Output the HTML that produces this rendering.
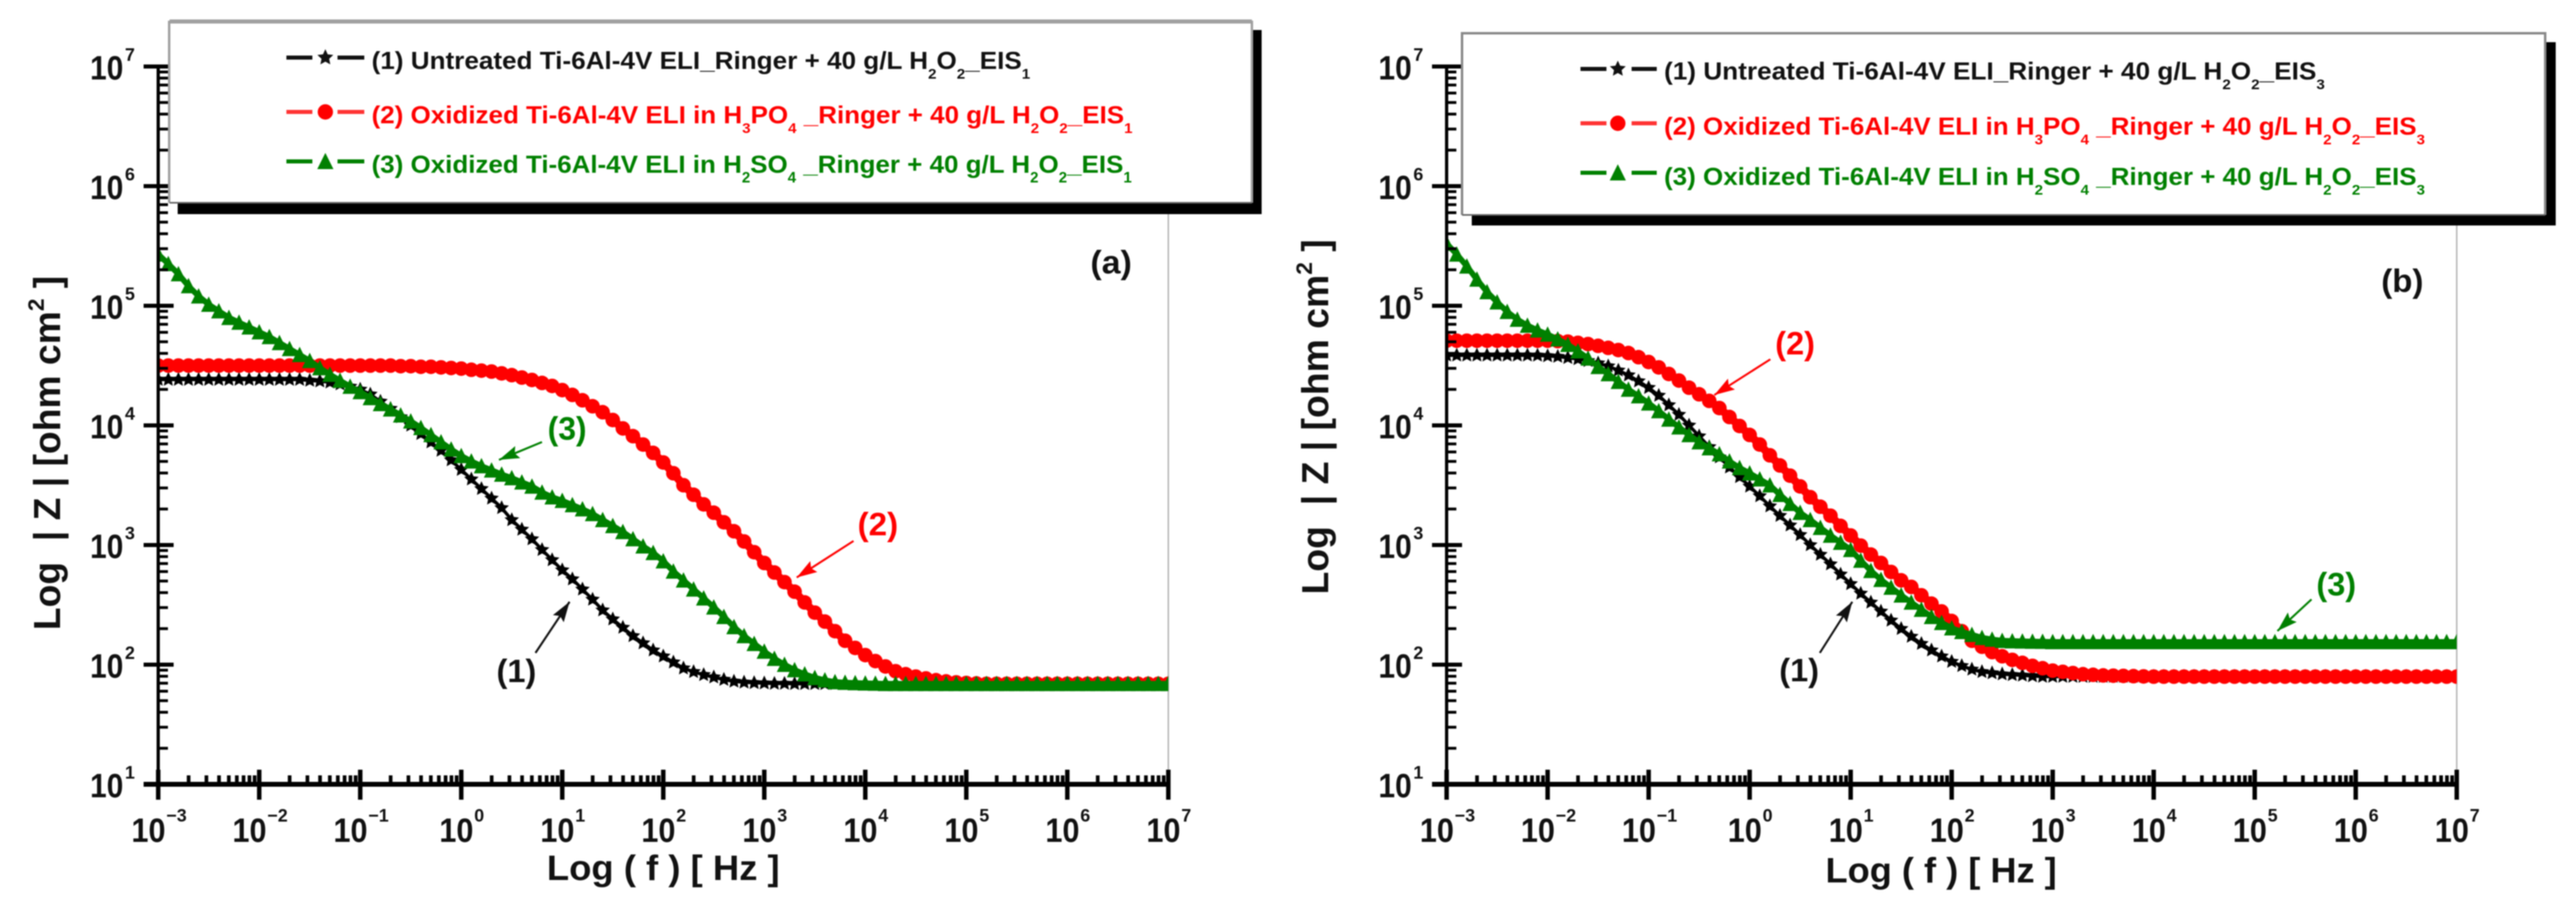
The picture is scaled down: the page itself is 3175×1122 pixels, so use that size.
<!DOCTYPE html>
<html lang="en">
<head>
<meta charset="utf-8">
<title>Bode plots of Ti-6Al-4V ELI in Ringer solution with H2O2</title>
<style>
html,body{margin:0;padding:0;background:#fff;width:3175px;height:1122px;overflow:hidden}
svg{display:block;filter:blur(0.7px)}
text{font-family:"Liberation Sans",sans-serif;font-weight:bold;white-space:pre}
.k{fill:#111}.r{fill:#f00}.g{fill:#008000}
.leg{font-size:31px}
.sub{font-size:18px}
</style>
</head>
<body>
<svg id="figure" xmlns="http://www.w3.org/2000/svg" width="3175" height="1122" viewBox="0 0 3175 1122">
<defs>
<marker id="ah-k" markerUnits="userSpaceOnUse" markerWidth="26" markerHeight="16" refX="25" refY="8" orient="auto"><path d="M0 0L25 8L0 16L4 8Z" fill="#111"/></marker>
<marker id="ah-r" markerUnits="userSpaceOnUse" markerWidth="26" markerHeight="16" refX="25" refY="8" orient="auto"><path d="M0 0L25 8L0 16L4 8Z" fill="#f00"/></marker>
<marker id="ah-g" markerUnits="userSpaceOnUse" markerWidth="26" markerHeight="16" refX="25" refY="8" orient="auto"><path d="M0 0L25 8L0 16L4 8Z" fill="#008000"/></marker>
<clipPath id="clip-a"><rect x="195" y="82" width="1245" height="885"/></clipPath>
<clipPath id="clip-b"><rect x="1783" y="82" width="1245" height="885"/></clipPath>
</defs>

<rect width="3175" height="1122" fill="#fff"/>

<g id="panel-a"></g>
<g id="panel-b"></g>

<!-- Panel A static text -->
<text transform="translate(74 777) rotate(-90)" font-size="46" textLength="437" lengthAdjust="spacingAndGlyphs" class="k">Log  | Z | [ohm cm<tspan font-size="28" dy="-20">2</tspan><tspan dy="20"> ]</tspan></text>
<text x="674" y="1085" font-size="44" textLength="287" lengthAdjust="spacingAndGlyphs" class="k">Log ( f ) [ Hz ]</text>
<text x="1344" y="337" font-size="40" textLength="51" lengthAdjust="spacingAndGlyphs" class="k">(a)</text>

<g>
<text x="612" y="841" font-size="40" textLength="49" lengthAdjust="spacingAndGlyphs" class="k">(1)</text>
<line x1="660" y1="805" x2="702" y2="742" stroke="#111" stroke-width="2.5" marker-end="url(#ah-k)"/>
<text x="1057" y="660" font-size="40" textLength="50" lengthAdjust="spacingAndGlyphs" class="r">(2)</text>
<line x1="1052" y1="667" x2="982" y2="712" stroke="#f00" stroke-width="2.5" marker-end="url(#ah-r)"/>
<text x="675" y="542" font-size="40" textLength="48" lengthAdjust="spacingAndGlyphs" class="g">(3)</text>
<line x1="668" y1="545" x2="615" y2="567" stroke="#008000" stroke-width="2.5" marker-end="url(#ah-g)"/>
</g>

<!-- Panel A legend -->
<g>
<rect x="219" y="37" width="1336" height="227" fill="#000"/>
<rect x="209" y="27" width="1334" height="223" fill="#fff"/>
<path d="M208.500 250V27H1543V250" fill="none" stroke="#a0a0a0" stroke-width="3"/>
<line x1="209" y1="26.500" x2="1543" y2="26.500" stroke="#a0a0a0" stroke-width="5"/>
<line x1="209" y1="250" x2="1543" y2="250" stroke="#666" stroke-width="2"/>
<path d="M353 71H385M416 71H449" stroke="#111" stroke-width="5"/>
<path d="M353 138H385M416 138H449" stroke="#f33" stroke-width="5"/>
<path d="M353 199H385M416 199H449" stroke="#008000" stroke-width="5"/>
<g id="legend-markers-a"></g>
<text data-fit="812" x="458" y="85" class="leg k">(1) Untreated Ti-6Al-4V ELI_Ringer + 40 g/L H<tspan class="sub" dy="12">2</tspan><tspan dy="-12">O</tspan><tspan class="sub" dy="12">2</tspan><tspan dy="-12">_EIS</tspan><tspan class="sub" dy="12">1</tspan></text>
<text data-fit="938" x="458" y="152" class="leg r">(2) Oxidized Ti-6Al-4V ELI in H<tspan class="sub" dy="12">3</tspan><tspan dy="-12">PO</tspan><tspan class="sub" dy="12">4</tspan><tspan dy="-12"> _Ringer + 40 g/L H</tspan><tspan class="sub" dy="12">2</tspan><tspan dy="-12">O</tspan><tspan class="sub" dy="12">2</tspan><tspan dy="-12">_EIS</tspan><tspan class="sub" dy="12">1</tspan></text>
<text data-fit="937" x="458" y="213" class="leg g">(3) Oxidized Ti-6Al-4V ELI in H<tspan class="sub" dy="12">2</tspan><tspan dy="-12">SO</tspan><tspan class="sub" dy="12">4</tspan><tspan dy="-12"> _Ringer + 40 g/L H</tspan><tspan class="sub" dy="12">2</tspan><tspan dy="-12">O</tspan><tspan class="sub" dy="12">2</tspan><tspan dy="-12">_EIS</tspan><tspan class="sub" dy="12">1</tspan></text>
</g>

<!-- Panel B static text -->
<text transform="translate(1637 733) rotate(-90)" font-size="46" textLength="438" lengthAdjust="spacingAndGlyphs" class="k">Log  | Z | [ohm cm<tspan font-size="28" dy="-20">2</tspan><tspan dy="20"> ]</tspan></text>
<text x="2250" y="1088" font-size="44" textLength="285" lengthAdjust="spacingAndGlyphs" class="k">Log ( f ) [ Hz ]</text>
<text x="2935" y="360" font-size="40" textLength="52" lengthAdjust="spacingAndGlyphs" class="k">(b)</text>

<g>
<text x="2193" y="840" font-size="40" textLength="49" lengthAdjust="spacingAndGlyphs" class="k">(1)</text>
<line x1="2243" y1="805" x2="2283" y2="742" stroke="#111" stroke-width="2.5" marker-end="url(#ah-k)"/>
<text x="2188" y="437" font-size="40" textLength="49" lengthAdjust="spacingAndGlyphs" class="r">(2)</text>
<line x1="2182" y1="443" x2="2113" y2="487" stroke="#f00" stroke-width="2.5" marker-end="url(#ah-r)"/>
<text x="2855" y="734" font-size="40" textLength="49" lengthAdjust="spacingAndGlyphs" class="g">(3)</text>
<line x1="2849" y1="739" x2="2807" y2="778" stroke="#008000" stroke-width="2.5" marker-end="url(#ah-g)"/>
</g>

<!-- Panel B legend -->
<g>
<rect x="1814" y="52" width="1336" height="226" fill="#000"/>
<rect x="1802" y="41" width="1335" height="224" fill="#fff"/>
<path d="M1802 265V41H3137V265" fill="none" stroke="#888" stroke-width="3"/>
<line x1="1802" y1="265" x2="3137" y2="265" stroke="#666" stroke-width="2"/>
<path d="M1948 85H1980M2011 85H2042" stroke="#111" stroke-width="5"/>
<path d="M1948 152H1980M2011 152H2042" stroke="#f33" stroke-width="5"/>
<path d="M1948 213H1980M2011 213H2042" stroke="#008000" stroke-width="5"/>
<g id="legend-markers-b"></g>
<text data-fit="815" x="2051" y="98" class="leg k">(1) Untreated Ti-6Al-4V ELI_Ringer + 40 g/L H<tspan class="sub" dy="12">2</tspan><tspan dy="-12">O</tspan><tspan class="sub" dy="12">2</tspan><tspan dy="-12">_EIS</tspan><tspan class="sub" dy="12">3</tspan></text>
<text data-fit="938" x="2051" y="166" class="leg r">(2) Oxidized Ti-6Al-4V ELI in H<tspan class="sub" dy="12">3</tspan><tspan dy="-12">PO</tspan><tspan class="sub" dy="12">4</tspan><tspan dy="-12"> _Ringer + 40 g/L H</tspan><tspan class="sub" dy="12">2</tspan><tspan dy="-12">O</tspan><tspan class="sub" dy="12">2</tspan><tspan dy="-12">_EIS</tspan><tspan class="sub" dy="12">3</tspan></text>
<text data-fit="938" x="2051" y="228" class="leg g">(3) Oxidized Ti-6Al-4V ELI in H<tspan class="sub" dy="12">2</tspan><tspan dy="-12">SO</tspan><tspan class="sub" dy="12">4</tspan><tspan dy="-12"> _Ringer + 40 g/L H</tspan><tspan class="sub" dy="12">2</tspan><tspan dy="-12">O</tspan><tspan class="sub" dy="12">2</tspan><tspan dy="-12">_EIS</tspan><tspan class="sub" dy="12">3</tspan></text>
</g>
</svg>

<script>
// Chart data: log10(frequency) and log10(|Z|).
const logFreq = [
-3.0,-2.9,-2.8,-2.7,-2.6,-2.5,-2.4,-2.3,-2.2,-2.1,
-2.0,-1.9,-1.8,-1.7,-1.6,-1.5,-1.4,-1.3,-1.2,-1.1,
-1.0,-0.9,-0.8,-0.7,-0.6,-0.5,-0.4,-0.3,-0.2,-0.1,
0.0,0.1,0.2,0.3,0.4,0.5,0.6,0.7,0.8,0.9,
1.0,1.1,1.2,1.3,1.4,1.5,1.6,1.7,1.8,1.9,
2.0,2.1,2.2,2.3,2.4,2.5,2.6,2.7,2.8,2.9,
3.0,3.1,3.2,3.3,3.4,3.5,3.6,3.7,3.8,3.9,
4.0,4.1,4.2,4.3,4.4,4.5,4.6,4.7,4.8,4.9,
5.0,5.1,5.2,5.3,5.4,5.5,5.6,5.7,5.8,5.9,
6.0,6.1,6.2,6.3,6.4,6.5,6.6,6.7,6.8,6.9,
7.0];

const panelAUntreated = [
4.383,4.383,4.383,4.383,4.383,4.383,4.383,4.383,4.383,4.383,
4.383,4.383,4.383,4.383,4.383,4.375,4.37,4.36,4.345,4.325,
4.30,4.26,4.20,4.14,4.07,4.00,3.93,3.86,3.79,3.71,
3.63,3.55,3.47,3.39,3.31,3.21,3.13,3.05,2.96,2.875,
2.79,2.715,2.63,2.545,2.455,2.38,2.31,2.24,2.18,2.12,
2.07,2.02,1.97,1.94,1.915,1.895,1.875,1.86,1.852,1.848,
1.845,1.842,1.842,1.84,1.84,1.84,1.84,1.84,1.84,1.84,
1.84,1.84,1.84,1.84,1.84,1.84,1.84,1.84,1.84,1.84,
1.84,1.84,1.84,1.84,1.84,1.84,1.84,1.84,1.84,1.84,
1.84,1.84,1.84,1.84,1.84,1.84,1.84,1.84,1.84,1.84,
1.84];

const panelAPhosphoric = [
4.50,4.50,4.50,4.50,4.50,4.50,4.50,4.50,4.50,4.50,
4.50,4.50,4.50,4.50,4.50,4.50,4.50,4.50,4.50,4.50,
4.50,4.50,4.50,4.50,4.495,4.495,4.49,4.49,4.485,4.48,
4.475,4.465,4.458,4.45,4.435,4.42,4.40,4.38,4.355,4.33,
4.295,4.255,4.21,4.16,4.11,4.045,3.975,3.91,3.84,3.77,
3.69,3.60,3.50,3.42,3.34,3.27,3.19,3.115,3.03,2.94,
2.85,2.77,2.69,2.61,2.52,2.435,2.36,2.28,2.20,2.14,
2.08,2.03,1.985,1.945,1.92,1.90,1.885,1.87,1.86,1.852,
1.847,1.843,1.84,1.84,1.84,1.84,1.84,1.84,1.84,1.84,
1.84,1.84,1.84,1.84,1.84,1.84,1.84,1.84,1.84,1.84,
1.84];

const panelASulfuric = [
5.43,5.35,5.265,5.165,5.08,5.01,4.955,4.90,4.86,4.82,
4.78,4.74,4.69,4.64,4.59,4.54,4.48,4.425,4.375,4.325,
4.28,4.23,4.18,4.135,4.085,4.035,3.98,3.92,3.86,3.80,
3.745,3.70,3.66,3.625,3.59,3.56,3.525,3.49,3.44,3.40,
3.37,3.335,3.30,3.26,3.21,3.16,3.11,3.05,2.99,2.935,
2.865,2.78,2.705,2.63,2.555,2.48,2.40,2.315,2.24,2.175,
2.11,2.05,2.00,1.955,1.92,1.89,1.87,1.855,1.85,1.847,
1.844,1.842,1.84,1.84,1.84,1.84,1.84,1.84,1.84,1.84,
1.84,1.84,1.84,1.84,1.84,1.84,1.84,1.84,1.84,1.84,
1.84,1.84,1.84,1.84,1.84,1.84,1.84,1.84,1.84,1.84,
1.84];

const panelBUntreated = [
4.586,4.586,4.586,4.586,4.586,4.586,4.586,4.586,4.586,4.585,
4.58,4.575,4.565,4.555,4.54,4.52,4.495,4.46,4.42,4.37,
4.315,4.25,4.17,4.09,4.00,3.91,3.82,3.735,3.65,3.57,
3.49,3.41,3.325,3.245,3.165,3.085,3.00,2.92,2.84,2.755,
2.675,2.595,2.52,2.445,2.37,2.30,2.235,2.175,2.12,2.07,
2.025,1.99,1.96,1.94,1.93,1.92,1.915,1.91,1.905,1.90,
1.90,1.90,1.90,1.90,1.90,1.90,1.90,1.90,1.90,1.90,
1.90,1.90,1.90,1.90,1.90,1.90,1.90,1.90,1.90,1.90,
1.90,1.90,1.90,1.90,1.90,1.90,1.90,1.90,1.90,1.90,
1.90,1.90,1.90,1.90,1.90,1.90,1.90,1.90,1.90,1.90,
1.90];

const panelBPhosphoric = [
4.708,4.708,4.708,4.708,4.708,4.708,4.708,4.708,4.708,4.708,
4.708,4.705,4.70,4.69,4.68,4.665,4.648,4.63,4.605,4.57,
4.53,4.485,4.43,4.375,4.315,4.26,4.205,4.145,4.07,3.995,
3.92,3.84,3.75,3.665,3.58,3.49,3.40,3.32,3.245,3.16,
3.08,2.995,2.92,2.85,2.775,2.705,2.65,2.58,2.51,2.445,
2.365,2.28,2.20,2.15,2.105,2.07,2.04,2.015,1.99,1.97,
1.95,1.94,1.93,1.92,1.915,1.91,1.908,1.906,1.904,1.902,
1.90,1.90,1.90,1.90,1.90,1.90,1.90,1.90,1.90,1.90,
1.90,1.90,1.90,1.90,1.90,1.90,1.90,1.90,1.90,1.90,
1.90,1.90,1.90,1.90,1.90,1.90,1.90,1.90,1.90,1.90,
1.90];

const panelBSulfuric = [
5.52,5.43,5.33,5.22,5.115,5.03,4.95,4.885,4.835,4.795,
4.76,4.72,4.675,4.62,4.56,4.49,4.43,4.365,4.30,4.245,
4.185,4.12,4.05,3.985,3.92,3.86,3.81,3.76,3.70,3.645,
3.60,3.55,3.50,3.42,3.345,3.27,3.21,3.145,3.08,3.02,
2.96,2.87,2.785,2.71,2.645,2.58,2.52,2.46,2.40,2.35,
2.305,2.275,2.25,2.225,2.21,2.20,2.197,2.195,2.193,2.192,
2.19,2.19,2.19,2.19,2.19,2.19,2.19,2.19,2.19,2.19,
2.19,2.19,2.19,2.19,2.19,2.19,2.19,2.19,2.19,2.19,
2.19,2.19,2.19,2.19,2.19,2.19,2.19,2.19,2.19,2.19,
2.19,2.19,2.19,2.19,2.19,2.19,2.19,2.19,2.19,2.19,
2.19];

const xTickExponents = [-3,-2,-1,0,1,2,3,4,5,6,7];
const yTickExponents = [1,2,3,4,5,6,7];
const minorMultiples = [2,3,4,5,6,7,8,9];

const SVGNS = 'http://www.w3.org/2000/svg';
const BLACK = '#000', RED = '#ff0000', GREEN = '#008000';

function make(tag, parent, attrs, text) {
  const node = document.createElementNS(SVGNS, tag);
  for (const key in attrs) node.setAttribute(key, attrs[key]);
  if (text !== undefined) node.textContent = text;
  parent.appendChild(node);
  return node;
}

function starPath(cx, cy, r) {
  let d = '';
  for (let i = 0; i < 10; i++) {
    const rad = i % 2 ? r * 0.48 : r;
    const a = -Math.PI / 2 + i * Math.PI / 5;
    d += (i ? 'L' : 'M') + (cx + rad * Math.cos(a)).toFixed(1) + ' ' + (cy + rad * Math.sin(a)).toFixed(1);
  }
  return d + 'Z';
}

function drawMarker(parent, shape, cx, cy, color, scale) {
  let m;
  if (shape === 'star') {
    m = make('path', parent, { d: starPath(cx, cy, 9 * scale), fill: color });
  } else if (shape === 'circle') {
    m = make('circle', parent, { cx: cx, cy: cy, r: 9 * scale, fill: color });
  } else {
    const d = 'M' + cx + ' ' + (cy - 10 * scale) + 'L' + (cx - 9.5 * scale) + ' ' + (cy + 9 * scale) + 'L' + (cx + 9.5 * scale) + ' ' + (cy + 9 * scale) + 'Z';
    m = make('path', parent, { d: d, fill: color });
  }
  
  
  return m;
}

function drawPanel(cfg) {
  const root = document.getElementById(cfg.id);
  const xScale = v => cfg.xLeft + (v - xTickExponents[0]) * (cfg.xRight - cfg.xLeft) / (xTickExponents[xTickExponents.length - 1] - xTickExponents[0]);
  const yScale = v => cfg.yBottom - (v - yTickExponents[0]) * (cfg.yBottom - cfg.yTop) / (yTickExponents[yTickExponents.length - 1] - yTickExponents[0]);

  const frame = make('line', root, { x1: cfg.xRight, y1: cfg.yTop, x2: cfg.xRight, y2: cfg.yBottom, stroke: '#bbb', 'stroke-width': 2 });
  
  

  const seriesGroup = make('g', root, { 'clip-path': 'url(#' + cfg.clip + ')' });
  
  

  cfg.series.forEach(s => {
    const g = make('g', seriesGroup, {});
    
    
    const pts = s.values.map((v, i) => xScale(logFreq[i]).toFixed(1) + ',' + yScale(v).toFixed(1)).join(' ');
    const line = make('polyline', g, { points: pts, fill: 'none', stroke: s.color, 'stroke-width': s.lineWidth });
    
    
    s.values.forEach((v, i) => drawMarker(g, s.shape, xScale(logFreq[i]), yScale(v), s.color, s.scale));
  });

  const axes = make('g', root, { stroke: '#000', fill: 'none' });
  
  

  const yAxis = make('line', axes, { x1: cfg.xLeft, y1: cfg.yTop, x2: cfg.xLeft, y2: cfg.yBottom + 19, 'stroke-width': 4 });
  
  
  const xAxis = make('line', axes, { x1: cfg.xLeft - 18, y1: cfg.yBottom, x2: cfg.xRight, y2: cfg.yBottom, 'stroke-width': 6 });
  
  

  xTickExponents.forEach((e, idx) => {
    const x = xScale(e);
    const t = make('line', axes, { x1: x, y1: cfg.yBottom - 18, x2: x, y2: cfg.yBottom + 19, 'stroke-width': 5.5 });
    
    
    if (idx < xTickExponents.length - 1) {
      minorMultiples.forEach(m => {
        const mx = xScale(e + Math.log10(m));
        const mt = make('line', axes, { x1: mx, y1: cfg.yBottom - 11, x2: mx, y2: cfg.yBottom, 'stroke-width': 4.5 });
        
        
      });
    }
    const off = e < 0 ? -33 : -27;
    const base = make('text', root, { x: x + off, y: 1038, 'font-size': 42, textLength: 42, lengthAdjust: 'spacingAndGlyphs', fill: '#111' }, '10');
    
    
    const exp = make('text', root, { x: x + off + 43, y: 1013, 'font-size': 22, fill: '#111' }, String(e).replace('-', '\u2212'));
    
    
  });

  yTickExponents.forEach((e, idx) => {
    const y = yScale(e);
    const t = make('line', axes, { x1: cfg.xLeft - 18, y1: y, x2: cfg.xLeft + 19, y2: y, 'stroke-width': 5 });
    
    
    if (idx < yTickExponents.length - 1) {
      minorMultiples.forEach(m => {
        const my = yScale(e + Math.log10(m));
        const mt = make('line', axes, { x1: cfg.xLeft, y1: my, x2: cfg.xLeft + 12, y2: my, 'stroke-width': 3.5 });
        
        
      });
    }
    const base = make('text', root, { x: cfg.xLeft - 84, y: y + 16, 'font-size': 42, textLength: 41, lengthAdjust: 'spacingAndGlyphs', fill: '#111' }, '10');
    
    
    const exp = make('text', root, { x: cfg.xLeft - 41, y: y - 7, 'font-size': 22, fill: '#111' }, String(e));
    
    
  });
}

drawPanel({
  id: 'panel-a', clip: 'clip-a', xLeft: 195, xRight: 1440, yTop: 82, yBottom: 967,
  series: [
    { name: 'series-1-untreated', values: panelAUntreated, color: BLACK, shape: 'star', scale: 1.05, lineWidth: 4 },
    { name: 'series-2-h3po4', values: panelAPhosphoric, color: RED, shape: 'circle', scale: 1, lineWidth: 10 },
    { name: 'series-3-h2so4', values: panelASulfuric, color: GREEN, shape: 'triangle', scale: 1, lineWidth: 7 }
  ]
});
drawPanel({
  id: 'panel-b', clip: 'clip-b', xLeft: 1783, xRight: 3028, yTop: 82, yBottom: 967,
  series: [
    { name: 'series-1-untreated', values: panelBUntreated, color: BLACK, shape: 'star', scale: 1.05, lineWidth: 4 },
    { name: 'series-2-h3po4', values: panelBPhosphoric, color: RED, shape: 'circle', scale: 1, lineWidth: 10 },
    { name: 'series-3-h2so4', values: panelBSulfuric, color: GREEN, shape: 'triangle', scale: 1, lineWidth: 7 }
  ]
});

const legendA = document.getElementById('legend-markers-a');
drawMarker(legendA, 'star', 401, 71, '#111', 1.15);
drawMarker(legendA, 'circle', 401, 138, RED, 1.05);
drawMarker(legendA, 'triangle', 401, 199, GREEN, 1.05);
const legendB = document.getElementById('legend-markers-b');
drawMarker(legendB, 'star', 1994, 85, '#111', 1.15);
drawMarker(legendB, 'circle', 1994, 152, RED, 1.05);
drawMarker(legendB, 'triangle', 1994, 213, GREEN, 1.05);

// Squeeze each legend entry horizontally to the width it occupies in the figure.
document.querySelectorAll('[data-fit]').forEach(t => {
  const ratio = Number(t.getAttribute('data-fit')) / t.getComputedTextLength();
  const x = Number(t.getAttribute('x'));
  t.setAttribute('transform', 'translate(' + x + ' 0) scale(' + ratio.toFixed(4) + ' 1) translate(' + (-x) + ' 0)');
});
</script>
</body>
</html>
